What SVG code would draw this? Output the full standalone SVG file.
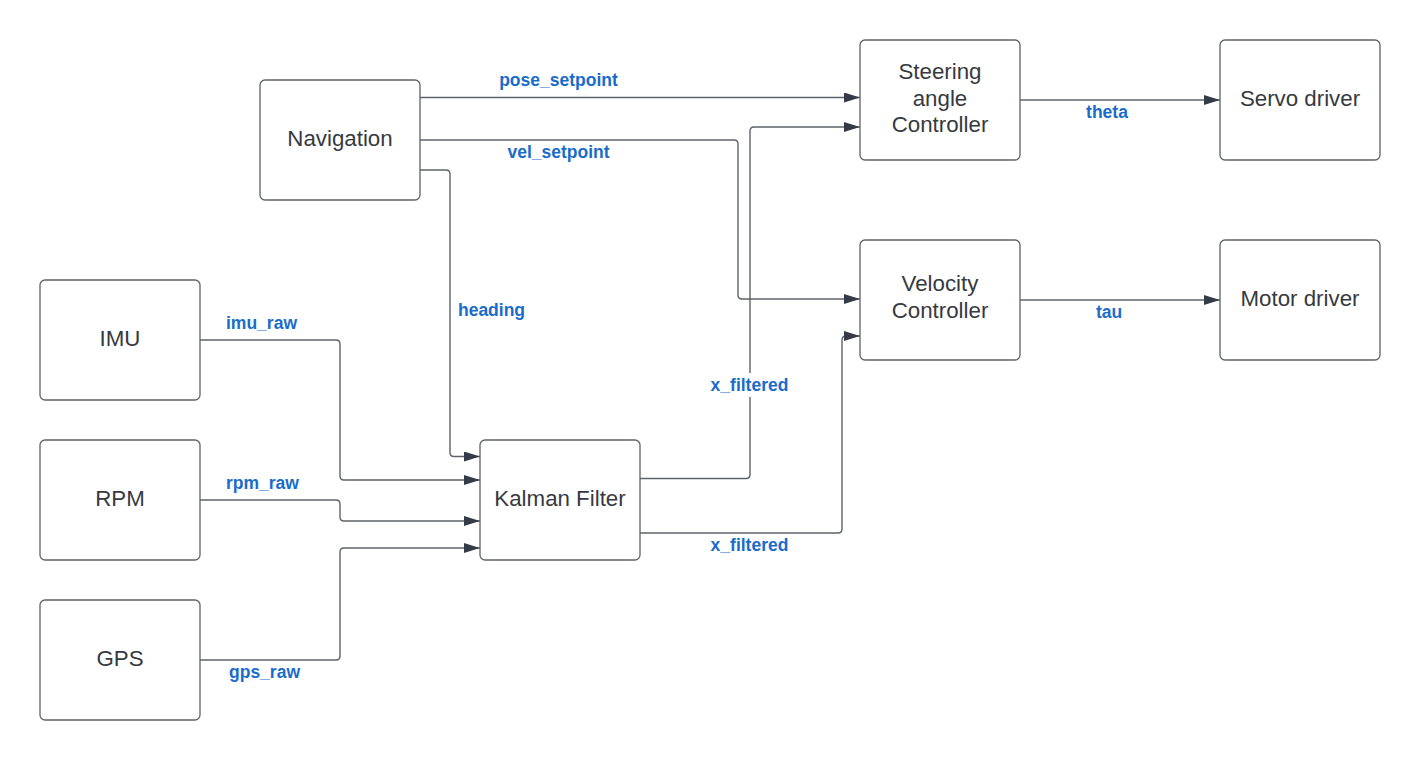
<svg xmlns="http://www.w3.org/2000/svg" width="1420" height="760" viewBox="0 0 1420 760">
<style>
.node rect{fill:#ffffff;stroke:#5f6369;stroke-width:1.3}
.node text{font-family:"Liberation Sans",Arial,sans-serif;font-size:22.3px;fill:#363a40;text-anchor:middle}
.conn path{fill:none;stroke:#5f6369;stroke-width:1.4;stroke-linejoin:round}
.lbl{font-family:"Liberation Sans",Arial,sans-serif;font-size:17.5px;font-weight:bold;fill:#1a6ccb;text-anchor:middle}
</style>
<defs>
<marker id="arr" viewBox="0 0 16 10" refX="16" refY="5" markerWidth="16" markerHeight="10" markerUnits="userSpaceOnUse" orient="auto">
<path d="M0,0 L16,5 L0,10 z" fill="#343a46"/>
</marker>
</defs>
<rect width="1420" height="760" fill="#ffffff"/>
<g id="connectors" class="conn">
<path d="M420,97.5 L860,97.5" marker-end="url(#arr)"/>
<path d="M420,140 L734,140 Q738,140 738,144 L738,295 Q738,299 742,299 L860,299" marker-end="url(#arr)"/>
<path d="M420,170 L446,170 Q450,170 450,174 L450,452.5 Q450,456.5 454,456.5 L480,456.5" marker-end="url(#arr)"/>
<path d="M200,340 L336,340 Q340,340 340,344 L340,476 Q340,480 344,480 L480,480" marker-end="url(#arr)"/>
<path d="M200,500 L336,500 Q340,500 340,504 L340,517 Q340,521 344,521 L480,521" marker-end="url(#arr)"/>
<path d="M200,660 L336,660 Q340,660 340,656 L340,552 Q340,548 344,548 L480,548" marker-end="url(#arr)"/>
<path d="M640,478.5 L746,478.5 Q750,478.5 750,474.5 L750,131 Q750,127 754,127 L860,127" marker-end="url(#arr)"/>
<path d="M640,533 L838,533 Q842,533 842,529 L842,340 Q842,336 846,336 L860,336" marker-end="url(#arr)"/>
<path d="M1020,100 L1220,100" marker-end="url(#arr)"/>
<path d="M1020,300 L1220,300" marker-end="url(#arr)"/>
</g>
<g id="labels">
<text class="lbl" x="558.5" y="86">pose_setpoint</text>
<text class="lbl" x="558.5" y="158">vel_setpoint</text>
<text class="lbl" x="491.5" y="316">heading</text>
<rect x="706" y="373" width="88" height="24" fill="#ffffff"/>
<text class="lbl" x="749.5" y="391">x_filtered</text>
<text class="lbl" x="749.5" y="551">x_filtered</text>
<text class="lbl" x="261.5" y="329">imu_raw</text>
<text class="lbl" x="262.5" y="489">rpm_raw</text>
<text class="lbl" x="264.5" y="678">gps_raw</text>
<text class="lbl" x="1107" y="118">theta</text>
<text class="lbl" x="1109" y="318">tau</text>
</g>
<g id="navigation" class="node"><rect x="260" y="80" width="160" height="120" rx="5"/><text x="340" y="146">Navigation</text></g>
<g id="steering" class="node"><rect x="860" y="40" width="160" height="120" rx="5"/><text x="940" y="79">Steering</text><text x="940" y="105.5">angle</text><text x="940" y="132">Controller</text></g>
<g id="servo" class="node"><rect x="1220" y="40" width="160" height="120" rx="5"/><text x="1300" y="106">Servo driver</text></g>
<g id="velocity" class="node"><rect x="860" y="240" width="160" height="120" rx="5"/><text x="940" y="291">Velocity</text><text x="940" y="317.5">Controller</text></g>
<g id="motor" class="node"><rect x="1220" y="240" width="160" height="120" rx="5"/><text x="1300" y="306">Motor driver</text></g>
<g id="imu" class="node"><rect x="40" y="280" width="160" height="120" rx="5"/><text x="120" y="346">IMU</text></g>
<g id="rpm" class="node"><rect x="40" y="440" width="160" height="120" rx="5"/><text x="120" y="506">RPM</text></g>
<g id="gps" class="node"><rect x="40" y="600" width="160" height="120" rx="5"/><text x="120" y="666">GPS</text></g>
<g id="kalman" class="node"><rect x="480" y="440" width="160" height="120" rx="5"/><text x="560" y="506">Kalman Filter</text></g>
</svg>
